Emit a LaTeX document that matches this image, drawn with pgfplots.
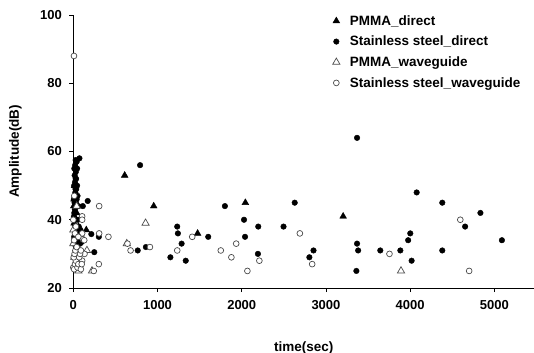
\documentclass[border=0pt]{standalone}
\usepackage{fontspec}
\setmainfont{Liberation Sans}
\usepackage{pgfplots}
\pgfplotsset{compat=1.18}

\definecolor{openline}{HTML}{4A4A4A}

\begin{document}
\begin{tikzpicture}
\begin{axis}[
  name=ax,
  at={(0,0)}, anchor=origin,
  scale only axis,
  width=460.7bp, height=273bp,
  xmin=0, xmax=5470,
  ymin=20, ymax=100,
  xtick={0,1000,2000,3000,4000,5000},
  ytick={20,40,60,80,100},
  axis x line=bottom, axis y line=left,
  axis line style={-, line width=0.9pt},
  tick style={line width=0.9pt, black},
  tick align=outside,
  major tick length=4bp,
  minor tick num=0,
  /pgf/number format/assume math mode=true,
  /pgf/number format/1000 sep={},
  ticklabel style={font=\fontsize{13bp}{15bp}\selectfont\bfseries},
  xticklabel style={yshift=-5bp},
  yticklabel style={xshift=-4bp},
  xlabel={time(sec)},
  ylabel={Amplitude(dB)},
  label style={font=\fontsize{13.5bp}{16bp}\selectfont\bfseries},
  xlabel style={at={(0.5,-60bp)}, anchor=center},
  ylabel style={at={(-58bp,0.5)}, anchor=center, rotate=0},
  clip=false,
  legend cell align=left,
  legend image code/.code={\draw[#1] plot coordinates {(0bp,0bp)};},
  legend style={
    draw=none, fill=none,
    at={(0.5626,1.007)}, anchor=north west,
    font=\fontsize{13.5bp}{16bp}\selectfont\bfseries,
    row sep=5.4bp,
    column sep=8bp,
    inner sep=0pt,
  },
]
% PMMA, direct contact
\addplot[only marks, mark=triangle*, mark size=3.9bp, black, fill=black] coordinates {
  (610,53) (955,44) (1476,36) (2043,45) (3204,41)
  (154,37) (5,44) (10,39) (20,35) (30,37) (40,42) (25,47)
  (60,38) (15,50) (50,33) (8,46) (35,40)
};
\addlegendentry{PMMA\_direct}
% Stainless steel, direct contact
\addplot[only marks, mark=*, mark size=2.8bp, black, fill=black] coordinates {
  (793,56) (765,31) (862,32) (1153,29) (1234,38) (1242,36) (1286,33)
  (1335,28) (1602,35) (1800,44) (2027,40) (2039,35) (2192,30) (2196,38)
  (2496,38) (2629,45) (2803,29) (2852,31) (3369,64) (3369,33) (3382,31)
  (3361,25) (3645,31) (3883,31) (3976,34) (4001,36) (4017,28) (4077,48)
  (4381,45) (4381,31) (4652,38) (4834,42) (5089,34)
  (171,45.5) (214,35.8) (249,30.5) (113,44) (303,35) (73,58) (28,57.5)
  (5,33) (10,35) (15,37) (20,38) (25,40) (8,41) (12,42) (18,43) (22,44)
  (30,45) (6,46) (14,47) (24,48) (35,49) (10,50) (20,51) (28,52) (16,53)
  (30,54) (12,55) (22,56) (40,57) (45,50) (50,47) (60,44) (55,40) (65,38)
  (70,36) (48,34) (80,33) (45,55) (33,52) (26,49) (15,45) (40,46) (100,33.5)
  (85,37) (60,35) (40,37)
};
\addlegendentry{Stainless steel\_direct}
% PMMA, through waveguide
\addplot[only marks, mark=triangle*, mark size=4.2bp, openline, fill=white, line width=0.7pt] coordinates {
  (858,39) (635,33) (3891,25) (222,25) (162,31) (61,25)
  (0,33) (0,37) (40,44) (20,30) (80,28) (50,27) (10,29)
};
\addlegendentry{PMMA\_waveguide}
% Stainless steel, through waveguide
\addplot[only marks, mark=*, mark size=2.9bp, openline, fill=white, line width=0.7pt] coordinates {
  (8,88) (307,44) (307,36) (417,35) (303,27) (243,25) (643,33) (680,31)
  (910,32) (1234,31) (1412,35) (1751,31) (1877,29) (1934,33) (2067,25)
  (2209,28) (2690,36) (2836,27) (3754,30) (4595,40) (4700,25)
  (12,47) (105,41) (105,40) (105,36) (113,34.3) (133,30) (105,28)
  (0,26) (10,25.5) (20,27) (30,28) (5,29) (15,30) (25,31) (40,32)
  (50,26) (60,27) (70,29) (80,30) (90,31) (10,34) (20,36) (30,38)
  (0,40) (60,35) (90,25.5) (100,27) (130,34)
};
\addlegendentry{Stainless steel\_waveguide}
\end{axis}
\pgfresetboundingbox
\path[use as bounding box] (-73.3bp,-65bp) rectangle (460.7bp,288bp);
\end{tikzpicture}
\end{document}
